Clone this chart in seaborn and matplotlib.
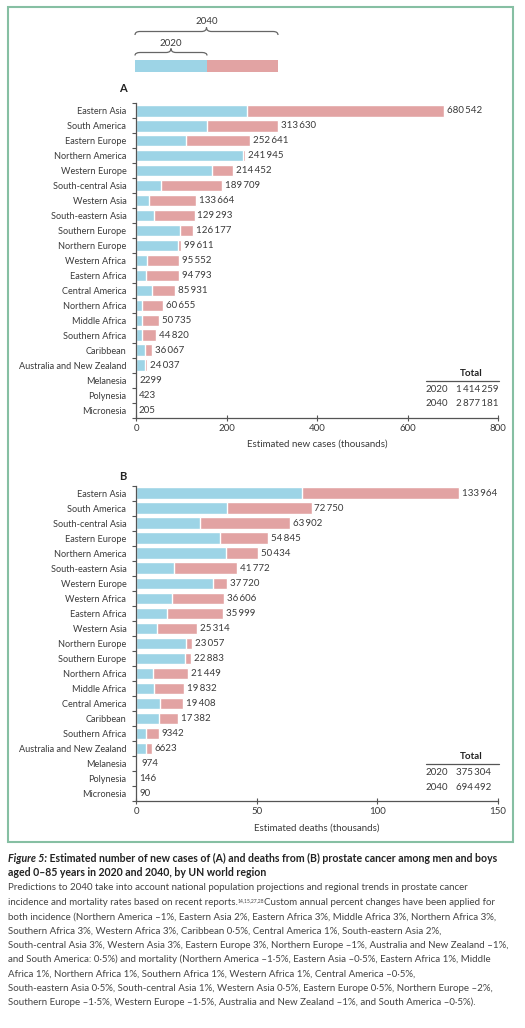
import numpy as np
import pandas as pd
import matplotlib
matplotlib.use("Agg")
import matplotlib.pyplot as plt
import seaborn as sns
from matplotlib.path import Path
from matplotlib.patches import PathPatch, Rectangle

# ---- data (thousands) ----
regions_a = ["Eastern Asia", "South America", "Eastern Europe", "Northern America",
             "Western Europe", "South-central Asia", "Western Asia", "South-eastern Asia",
             "Southern Europe", "Northern Europe", "Western Africa", "Eastern Africa",
             "Central America", "Northern Africa", "Middle Africa", "Southern Africa",
             "Caribbean", "Australia and New Zealand", "Melanesia", "Polynesia", "Micronesia"]
cases_2040 = [680542, 313630, 252641, 241945, 214452, 189709, 133664, 129293, 126177,
              99611, 95552, 94793, 85931, 60655, 50735, 44820, 36067, 24037, 2299, 423, 205]
cases_2020 = [244500, 156000, 110000, 236500, 167000, 56000, 28000, 39000, 97000,
              92000, 24000, 21000, 35000, 13000, 12500, 14000, 20000, 19500, 1100, 300, 150]

regions_b = ["Eastern Asia", "South America", "South-central Asia", "Eastern Europe",
             "Northern America", "South-eastern Asia", "Western Europe", "Western Africa",
             "Eastern Africa", "Western Asia", "Northern Europe", "Southern Europe",
             "Northern Africa", "Middle Africa", "Central America", "Caribbean",
             "Southern Africa", "Australia and New Zealand", "Melanesia", "Polynesia", "Micronesia"]
deaths_2040 = [133964, 72750, 63902, 54845, 50434, 41772, 37720, 36606, 35999, 25314,
               23057, 22883, 21449, 19832, 19408, 17382, 9342, 6623, 974, 146, 90]
deaths_2020 = [68900, 37600, 26400, 34700, 37200, 15700, 31800, 14900, 12800, 8700,
               20600, 20300, 6900, 7300, 9900, 9500, 4100, 4000, 500, 90, 60]

totals_a = ["1\u2009414\u2009259", "2\u2009877\u2009181"]
totals_b = ["375\u2009304", "694\u2009492"]

BLUE = "#9dd4e6"
PINK = "#e2a3a3"
TXT = "#3a3a3a"
GREEN = "#86bfa3"

sns.set_style("ticks")
plt.rcParams["font.family"] = ["Lato", "DejaVu Sans"]
plt.rcParams["text.color"] = TXT

W, H = 525, 1028
fig = plt.figure(figsize=(W / 100, H / 100), dpi=100)


def frac(x0, y0, x1, y1):
    # pixel box (top-left origin) -> figure fraction rect
    return [x0 / W, 1 - y1 / H, (x1 - x0) / W, (y1 - y0) / H]


def fmt(v):
    if v < 10000:
        return str(v)
    return f"{v:,}".replace(",", "\u2009")


def panel(rect, regions, v2020, v2040, xmax, xticks, xlabel):
    ax = fig.add_axes(rect)
    df = pd.DataFrame({"region": regions, "y2020": np.array(v2020) / 1000,
                       "y2040": np.array(v2040) / 1000})
    sns.barplot(data=df, x="y2040", y="region", color=PINK, width=0.78,
                saturation=1, ax=ax, orient="h")
    sns.barplot(data=df, x="y2020", y="region", color=BLUE, width=0.78,
                saturation=1, ax=ax, orient="h")
    for i, v in enumerate(df["y2040"]):
        ax.text(v + xmax * 0.008, i, fmt(v2040[i]), va="center", ha="left",
                fontsize=7.0, color=TXT)
    ax.set_xlim(0, xmax)
    ax.set_ylim(len(regions) - 0.5, -0.5)
    ax.set_xticks(xticks)
    ax.set_xlabel(xlabel, fontsize=7.0, color=TXT, labelpad=5)
    ax.set_ylabel("")
    ax.set_yticks(range(len(regions)))
    ax.set_yticks(np.arange(-0.5, len(regions), 1), minor=True)
    ax.tick_params(axis="y", which="major", length=0, pad=7, labelsize=6.6, labelcolor=TXT)
    ax.tick_params(axis="y", which="minor", length=3, width=0.8, color="#555555")
    ax.tick_params(axis="x", which="major", direction="inout", length=5, width=0.8,
                   color="#555555", labelsize=7.0, labelcolor=TXT, pad=2)
    for s in ["top", "right"]:
        ax.spines[s].set_visible(False)
    for s in ["left", "bottom"]:
        ax.spines[s].set_color("#555555")
        ax.spines[s].set_linewidth(0.9)
    return ax


ax_a = panel(frac(136, 103.2, 498, 417.7), regions_a, cases_2020, cases_2040, 800,
             [0, 200, 400, 600, 800], "Estimated new cases (thousands)")
ax_b = panel(frac(136, 485.8, 498, 801), regions_b, deaths_2020, deaths_2040, 150,
             [0, 50, 100, 150], "Estimated deaths (thousands)")

# ---- overlay in pixel coordinates ----
ov = fig.add_axes([0, 0, 1, 1], zorder=-1)
ov.set_xlim(0, W)
ov.set_ylim(H, 0)
ov.axis("off")
ov.add_patch(Rectangle((8, 7), 505, 835, fill=False, edgecolor=GREEN, lw=1.5))

top = fig.add_axes([0, 0, 1, 1], zorder=5)
top.set_xlim(0, W)
top.set_ylim(H, 0)
top.axis("off")
top.patch.set_alpha(0)

# legend swatch
top.add_patch(Rectangle((135, 60), 72, 12, color=BLUE, lw=0))
top.add_patch(Rectangle((207, 60), 71, 12, color=PINK, lw=0))


def brace(x0, x1, y_end, y_mid, y_tip, r=5):
    xm = (x0 + x1) / 2
    verts = [(x0, y_end), (x0, y_mid), (x0 + r, y_mid), (xm - r, y_mid),
             (xm, y_mid), (xm, y_tip), (xm, y_mid), (xm + r, y_mid),
             (x1 - r, y_mid), (x1, y_mid), (x1, y_end)]
    codes = [Path.MOVETO, Path.CURVE3, Path.CURVE3, Path.LINETO,
             Path.CURVE3, Path.CURVE3, Path.CURVE3, Path.CURVE3,
             Path.LINETO, Path.CURVE3, Path.CURVE3]
    top.add_patch(PathPatch(Path(verts, codes), fill=False, edgecolor="#666666", lw=0.9))


brace(135, 207, 55.5, 52.5, 48.5)
brace(135, 278, 35, 31.5, 27.5)
top.text(171, 43, "2020", ha="center", va="center", fontsize=7.0, color=TXT)
top.text(206.5, 21, "2040", ha="center", va="center", fontsize=7.0, color=TXT)

# panel letters
top.text(123, 89, "A", ha="center", va="center", fontsize=8, fontweight="bold", color="#222222")
top.text(123, 477, "B", ha="center", va="center", fontsize=8, fontweight="bold", color="#222222")


def totals(y_title, vals):
    top.text(471, y_title, "Total", ha="center", va="center", fontsize=7.0,
             fontweight="bold", color="#222222")
    top.plot([426, 499], [y_title + 7.5, y_title + 7.5], color="#555555", lw=0.9)
    for k, (yr, v) in enumerate(zip(["2020", "2040"], vals)):
        yy = y_title + 16 + 14.5 * k
        top.text(426, yy, yr, ha="left", va="center", fontsize=7.0, color=TXT)
        top.text(456, yy, v, ha="left", va="center", fontsize=7.0, color=TXT)


totals(373.3, totals_a)
totals(756.7, totals_b)

# ---- caption ----
t1 = top.text(8, 858, "Figure 5:", ha="left", va="center", fontsize=7.6,
              fontweight="bold", style="italic", color="#222222")
top.annotate(" Estimated number of new cases of (A) and deaths from (B) prostate cancer among men and boys",
             xy=(1, 0.5), xycoords=t1, ha="left", va="center", fontsize=7.6,
             fontweight="bold", color="#222222")
top.text(8, 872, "aged 0\u201385 years in 2020 and 2040, by UN world region", ha="left",
         va="center", fontsize=7.6, fontweight="bold", color="#222222")

CAP = 7.05
body = [
    "Predictions to 2040 take into account national population projections and regional trends in prostate cancer",
    None,
    "both incidence (Northern America \u20131%, Eastern Asia 2%, Eastern Africa 3%, Middle Africa 3%, Northern Africa 3%,",
    "Southern Africa 3%, Western Africa 3%, Caribbean 0\u00b75%, Central America 1%, South-eastern Asia 2%,",
    "South-central Asia 3%, Western Asia 3%, Eastern Europe 3%, Northern Europe \u20131%, Australia and New Zealand \u20131%,",
    "and South America: 0\u00b75%) and mortality (Northern America \u20131\u00b75%, Eastern Asia \u20130\u00b75%, Eastern Africa 1%, Middle",
    "Africa 1%, Northern Africa 1%, Southern Africa 1%, Western Africa 1%, Central America \u20130\u00b75%,",
    "South-eastern Asia 0\u00b75%, South-central Asia 1%, Western Asia 0\u00b75%, Eastern Europe 0\u00b75%, Northern Europe \u20132%,",
    "Southern Europe \u20131\u00b75%, Western Europe \u20131\u00b75%, Australia and New Zealand \u20131%, and South America \u20130\u00b75%).",
]
for k, line in enumerate(body):
    yy = 888 + 14.3 * k
    if line is None:
        ta = top.text(8, yy, "incidence and mortality rates based on recent reports.",
                      ha="left", va="center", fontsize=CAP, color="#444444")
        ts = top.annotate("14,15,27,28", xy=(1, 0.95), xycoords=ta, ha="left", va="top",
                          fontsize=3.6, color="#444444")
        top.annotate("Custom annual percent changes have been applied for",
                     xy=(1, 0.5), xycoords=(ts, ta), ha="left", va="center",
                     fontsize=CAP, color="#444444")
    else:
        top.text(8, yy, line, ha="left", va="center", fontsize=CAP, color="#444444")

fig.savefig("out.png", dpi=100)
